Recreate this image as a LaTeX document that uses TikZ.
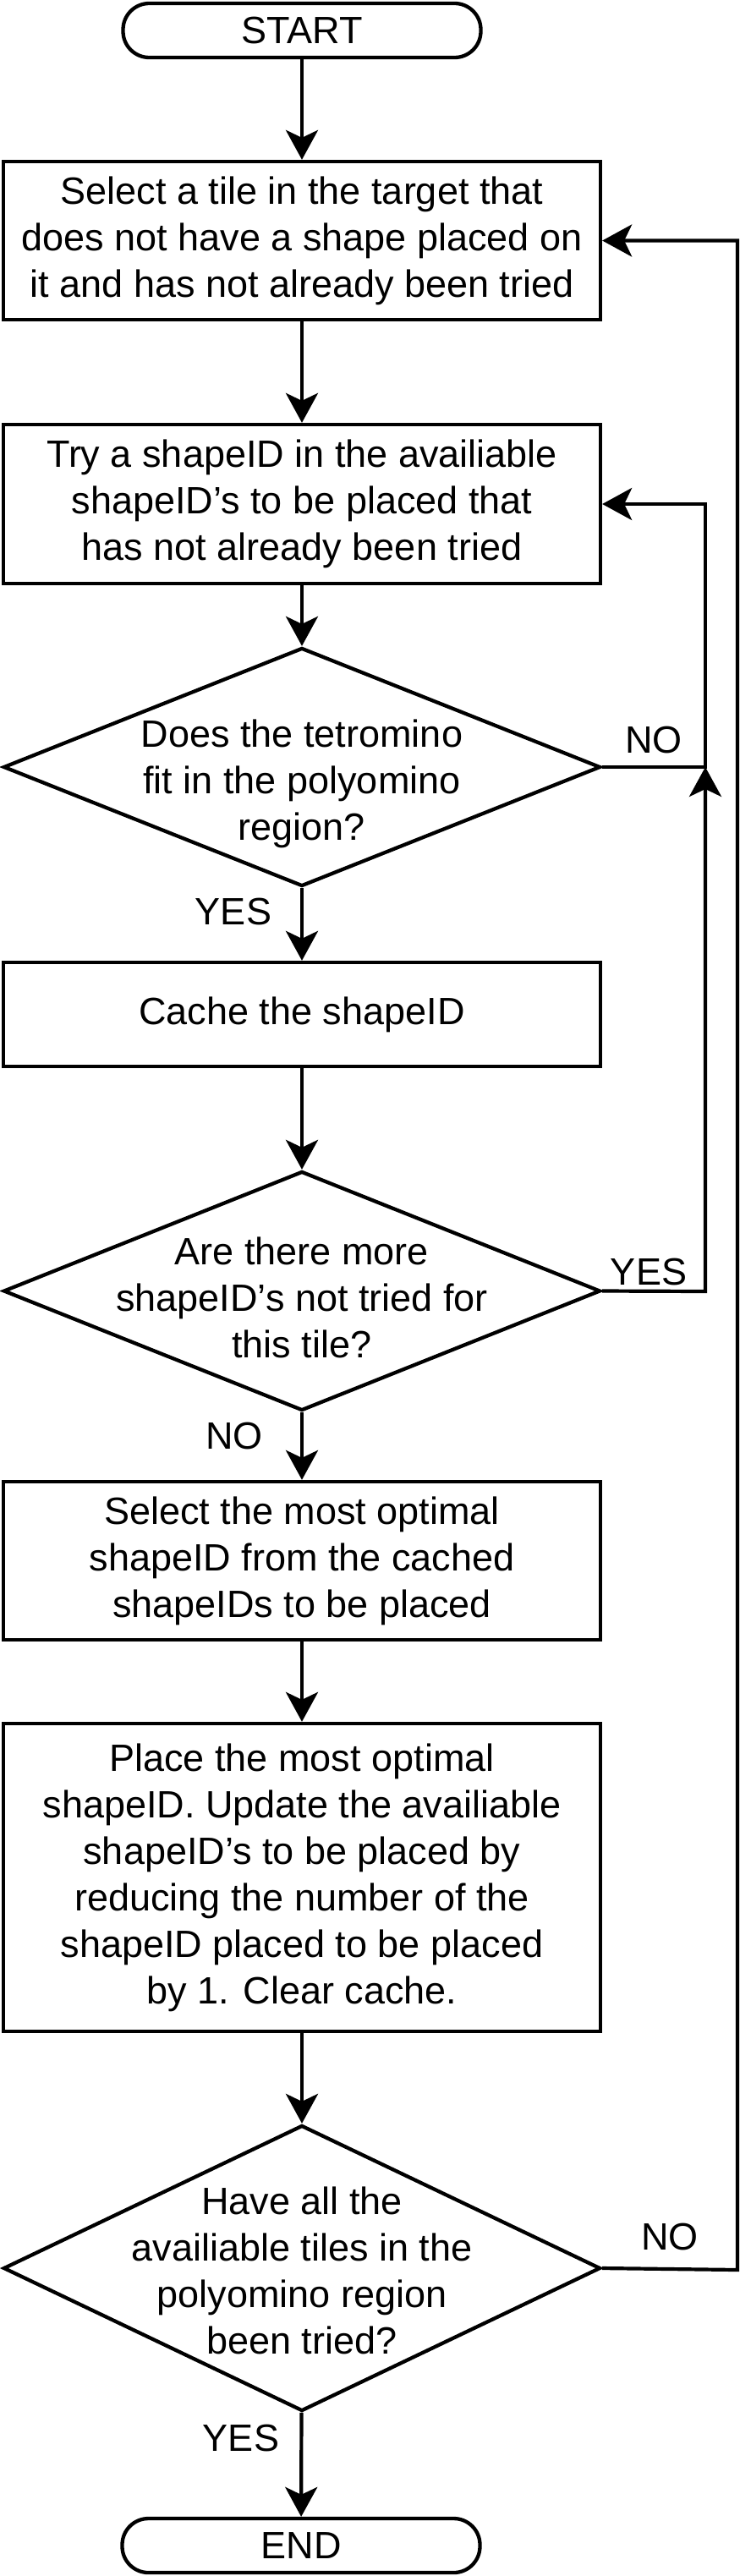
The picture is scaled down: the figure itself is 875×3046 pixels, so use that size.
\documentclass[tikz,border=0pt]{standalone}
\usepackage{fontspec}
\setmainfont{Liberation Sans}
\usetikzlibrary{arrows.meta,shapes.geometric}
\begin{document}
\begin{tikzpicture}[x=1pt,y=-1pt,
  every node/.style={font=\fontsize{45}{55}\selectfont},
  box/.style={draw=black,line width=4.3pt,rectangle,minimum width=706pt,align=center,inner sep=0pt},
  pill/.style={draw=black,line width=4.3pt,rectangle,rounded corners=31pt,minimum width=423pt,minimum height=64pt,inner sep=0pt},
  dia/.style={draw=black,line width=4.3pt,diamond,minimum width=706pt,inner sep=0pt},
  txt/.style={align=center,inner sep=0pt},
  lab/.style={inner sep=0pt},
  arr/.style={line width=4.2pt,-{Stealth[length=35pt,width=38pt,inset=9pt]}}
]
\fill[white] (0,0) rectangle (875,3046);
\useasboundingbox (0,0) rectangle (875,3046);

\node[pill] (start) at (357,36) {START};
\node[box,minimum height=187pt] (b1) at (357,284.5) {Select a tile in the target that\\does not have a shape placed on\\it and has not already been tried};
\node[box,minimum height=188pt] (b2) at (357,596) {Try a shapeID in the availiable\\shapeID’s to be placed that\\has not already been tried};
\node[dia,minimum height=282pt] (d1) at (357,907) {};
\node[txt] (d1t) at (357,927) {Does the tetromino\\fit in the polyomino\\region?};
\node[box,minimum height=123pt] (b3) at (357,1199.5) {Cache the shapeID};
\node[dia,minimum height=283pt] (d2) at (357,1526.5) {};
\node[txt] (d2t) at (357,1534) {Are there more\\shapeID’s not tried for\\this tile?};
\node[box,minimum height=187pt] (b4) at (357,1845.5) {Select the most optimal\\shapeID from the cached\\shapeIDs to be placed};
\node[box,minimum height=364pt] (b5) at (357,2220) {Place the most optimal\\shapeID. Update the availiable\\shapeID’s to be placed by\\reducing the number of the\\shapeID placed to be placed\\by 1. Clear cache.};
\node[dia,minimum height=338pt] (d3) at (357,2682) {};
\node[txt] (d3t) at (357,2685) {Have all the\\availiable tiles in the\\polyomino region\\been tried?};
\node[pill] (end) at (356,3010) {END};

\coordinate (j1) at (834,907);
\coordinate (j2) at (834,1527);
\coordinate (j3) at (872,2684);

\draw[arr] (start) -- (b1);
\draw[arr] (b1) -- (b2);
\draw[arr] (b2) -- (d1);
\draw[arr] (d1) -- (b3);
\draw[arr] (b3) -- (d2);
\draw[arr] (d2) -- (b4);
\draw[arr] (b4) -- (b5);
\draw[arr] (b5) -- (d3);
\draw[arr] (d3) -- (end);
\draw[arr] (d1.east) -- (j1) |- (b2.east);
\draw[arr] (d2.east) -- (j2) -- (j1);
\draw[arr] (d3.east) -- (j3) |- (b1.east);

\node[lab] (no1) at (773,875) {NO};
\node[lab] (yes1) at (276,1078) {YES};
\node[lab] (yes2) at (767,1504) {YES};
\node[lab] (no2) at (277,1698) {NO};
\node[lab] (no3) at (792,2645) {NO};
\node[lab] (yes3) at (285,2883) {YES};
\end{tikzpicture}
\end{document}
